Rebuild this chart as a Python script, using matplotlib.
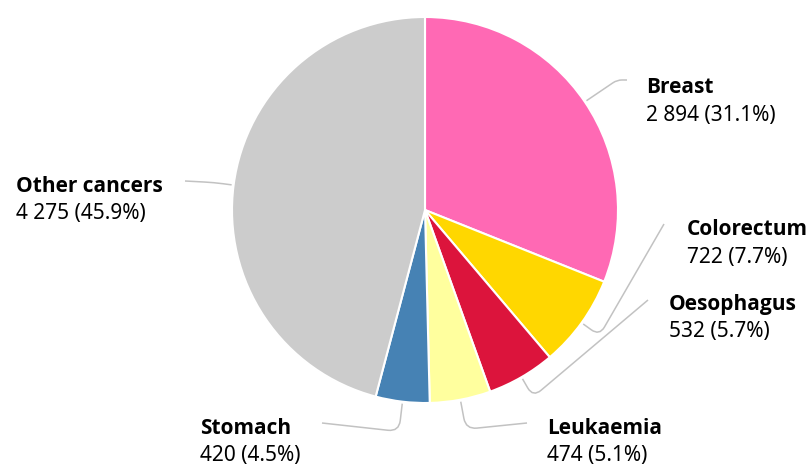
import numpy as np
import matplotlib
matplotlib.use("Agg")
import matplotlib.pyplot as plt
from matplotlib.path import Path
from matplotlib.patches import PathPatch
from matplotlib import font_manager as fm

categories = ["Breast", "Colorectum", "Oesophagus", "Leukaemia", "Stomach", "Other cancers"]
values = [2894, 722, 532, 474, 420, 4275]
colors = ["#FF69B4", "#FFD700", "#DC143C", "#FFFF9E", "#4682B4", "#CCCCCC"]

# layout (pixel coords, y from top)
W, H = 811, 466
cx, cy, R = 425, 210, 193
label_xy = {  # x, baseline of name line
    "Breast": (646, 93),
    "Colorectum": (687, 235),
    "Oesophagus": (669, 310),
    "Leukaemia": (547, 434),
    "Stomach": (200, 434),
    "Other cancers": (16, 192),
}
# connector: radial extension beyond edge, end anchor
conn = {
    "Breast": (39, (627, 80)),
    "Colorectum": (22, (664, 224)),
    "Oesophagus": (23, (648, 300)),
    "Leukaemia": (30, (527, 423)),
    "Stomach": (30, (322, 423)),
    "Other cancers": (20, (185, 181)),
}

plt.rcParams["font.family"] = ["Noto Sans", "DejaVu Sans"]

# find a bold face
bold_family = "DejaVu Sans"
for fam in ["Noto Sans", "Open Sans", "Lato", "Roboto"]:
    try:
        f = fm.findfont(fm.FontProperties(family=fam, weight="bold"), fallback_to_default=False)
        if "bold" in f.lower():
            bold_family = fam
            break
    except Exception:
        pass

fig = plt.figure(figsize=(W / 100, H / 100), dpi=100)
ax = fig.add_axes([0, 0, 1, 1])

ax.pie(values, colors=colors, startangle=90, counterclock=False,
       center=(cx, H - cy), radius=R,
       wedgeprops=dict(edgecolor="white", linewidth=1.5))
ax.set_xlim(0, W)
ax.set_ylim(0, H)
ax.set_aspect("auto")
ax.axis("off")

total = sum(values)
cum = np.cumsum([0] + values)
def rounded_path(pts, rad=11):
    verts = [pts[0]]
    codes = [Path.MOVETO]
    for i in range(1, len(pts) - 1):
        p0, p1, p2 = map(np.array, (pts[i - 1], pts[i], pts[i + 1]))
        d1 = p1 - p0; l1 = np.linalg.norm(d1)
        d2 = p2 - p1; l2 = np.linalg.norm(d2)
        r = min(rad, l1 / 2, l2 / 2)
        a = p1 - d1 / l1 * r
        b = p1 + d2 / l2 * r
        verts += [tuple(a), tuple(p1), tuple(b)]
        codes += [Path.LINETO, Path.CURVE3, Path.CURVE3]
    verts.append(pts[-1]); codes.append(Path.LINETO)
    return Path(verts, codes)

for i, (cat, v) in enumerate(zip(categories, values)):
    mid = (cum[i] + cum[i + 1]) / 2 / total
    ang = np.deg2rad(90 - mid * 360)
    dx, dy = np.cos(ang), np.sin(ang)
    ext, (axp, ayp) = conn[cat]
    p_edge = (cx + (R + 2) * dx, H - (cy - (R + 2) * dy))
    p_bend = (cx + (R + ext) * dx, H - (cy - (R + ext) * dy))
    p_end = (axp, H - ayp)
    path = rounded_path([p_edge, p_bend, p_end])
    ax.add_patch(PathPatch(path, fill=False, edgecolor="#c2c2c2", linewidth=1.1))
    lx, ly = label_xy[cat]
    ax.text(lx, H - ly, cat, fontsize=15, fontweight="bold", color="#000000",
            family=[bold_family, "DejaVu Sans"], ha="left", va="baseline")
    pct = v / total * 100
    vs = f"{v:,}".replace(",", " ")
    ax.text(lx, H - ly - 27.5, f"{vs} ({pct:.1f}%)", fontsize=15, color="#000000",
            ha="left", va="baseline")

fig.savefig("out.png", dpi=100, facecolor="white")
